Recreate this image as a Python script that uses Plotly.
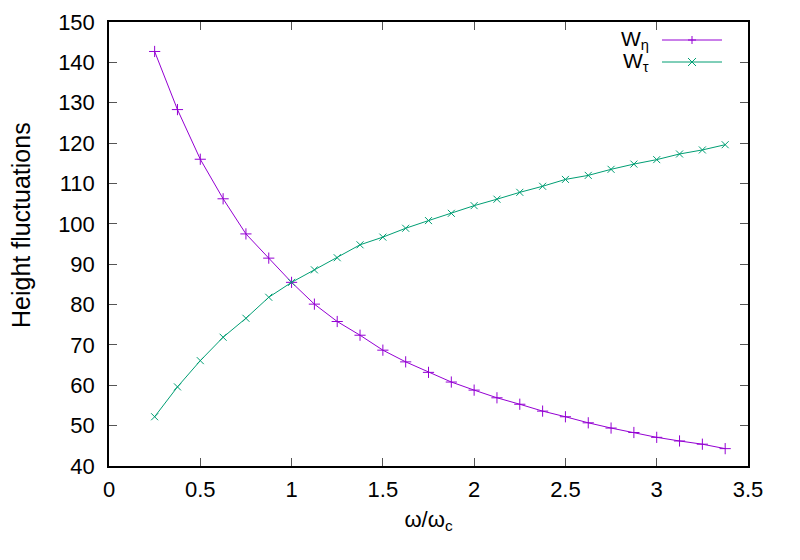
import plotly.graph_objects as go

omega_ratio = [0.25, 0.375, 0.5, 0.625, 0.75, 0.875, 1.0, 1.125, 1.25, 1.375, 1.5, 1.625, 1.75,
               1.875, 2.0, 2.125, 2.25, 2.375, 2.5, 2.625, 2.75, 2.875, 3.0, 3.125, 3.25, 3.375]
w_eta = [142.7, 128.3, 116.0, 106.2, 97.5, 91.5, 85.5, 80.1, 75.8, 72.4, 68.7, 65.8, 63.2,
         60.8, 58.8, 56.9, 55.3, 53.6, 52.2, 50.7, 49.4, 48.3, 47.1, 46.2, 45.4, 44.3]
w_tau = [52.2, 59.6, 66.1, 71.9, 76.6, 81.8, 85.5, 88.6, 91.6, 94.8, 96.7, 98.9, 100.8,
         102.6, 104.5, 106.1, 107.8, 109.3, 111.0, 112.0, 113.5, 114.8, 115.9, 117.3, 118.3, 119.6]
series_names = ["W<sub>η</sub>", "W<sub>τ</sub>"]
x_ticks = [0, 0.5, 1, 1.5, 2, 2.5, 3, 3.5]
y_ticks = list(range(40, 151, 10))
x_title = "ω/ω<sub>c</sub>"
y_title = "Height fluctuations"

PURPLE = "#9400D3"
GREEN = "#009E73"
FONT = "Liberation Sans, Arial, sans-serif"

W, H = 800, 560
ML, MR, MT, MB = 109, 52, 22, 94
PW, PH = W - ML - MR, H - MT - MB


def px(xp):
    return (xp - ML) / PW


def py(yp):
    return (H - MB - yp) / PH


fig = go.Figure()
fig.add_trace(go.Scatter(x=omega_ratio, y=w_eta, mode="lines+markers", name=series_names[0],
                         line=dict(color=PURPLE, width=1),
                         marker=dict(symbol="cross-thin", size=8, line=dict(color=PURPLE, width=1))))
fig.add_trace(go.Scatter(x=omega_ratio, y=w_tau, mode="lines+markers", name=series_names[1],
                         line=dict(color=GREEN, width=1),
                         marker=dict(symbol="x-thin", size=7, line=dict(color=GREEN, width=1))))

axis_common = dict(showline=True, linecolor="black", linewidth=1.5, mirror="allticks",
                   ticks="inside", ticklen=8, tickcolor="#555555", tickwidth=1,
                   showgrid=False, zeroline=False, automargin=False,
                   tickfont=dict(family=FONT, size=22, color="black"))

fig.update_xaxes(range=[0, 3.5], tickvals=x_ticks, ticktext=[f"{v:g}" for v in x_ticks],
                 ticklabelstandoff=3,
                 title=dict(text=x_title, font=dict(family=FONT, size=22, color="black"),
                            standoff=10),
                 **axis_common)
fig.update_yaxes(range=[40, 150], tickvals=y_ticks, ticklabelstandoff=8,
                 **axis_common)

# y-axis label placed like gnuplot's ylabel
fig.add_annotation(x=px(21), y=py(225), xref="paper", yref="paper", xanchor="center",
                   yanchor="middle", textangle=-90, text=y_title, showarrow=False,
                   font=dict(family=FONT, size=25, color="black"))

# gnuplot-style key: text on the left, sample line with marker on the right
key_rows = [(40, PURPLE, "plus"), (62, GREEN, "cross")]
for (row_y, color, kind), label in zip(key_rows, series_names):
    fig.add_annotation(x=px(651), y=py(row_y), xref="paper", yref="paper",
                       xanchor="right", yanchor="middle", text=label, showarrow=False,
                       font=dict(family=FONT, size=21, color="black"))
    fig.add_shape(type="line", xref="paper", yref="paper",
                  x0=px(662), x1=px(722), y0=py(row_y), y1=py(row_y),
                  line=dict(color=color, width=1))
    cx, r = 692, 4
    if kind == "plus":
        path = (f"M{px(cx - r)},{py(row_y)} L{px(cx + r)},{py(row_y)} "
                f"M{px(cx)},{py(row_y - r)} L{px(cx)},{py(row_y + r)}")
    else:
        path = (f"M{px(cx - r)},{py(row_y - r)} L{px(cx + r)},{py(row_y + r)} "
                f"M{px(cx + r)},{py(row_y - r)} L{px(cx - r)},{py(row_y + r)}")
    fig.add_shape(type="path", xref="paper", yref="paper", path=path,
                  line=dict(color=color, width=1))

fig.update_layout(
    width=W, height=H,
    margin=dict(l=ML, r=MR, t=MT, b=MB),
    paper_bgcolor="white", plot_bgcolor="white",
    showlegend=False,
    font=dict(family=FONT, size=22, color="black"),
)

fig.write_html("out.html", config={"displayModeBar": False},
               post_script="document.body.style.margin='0px';")
